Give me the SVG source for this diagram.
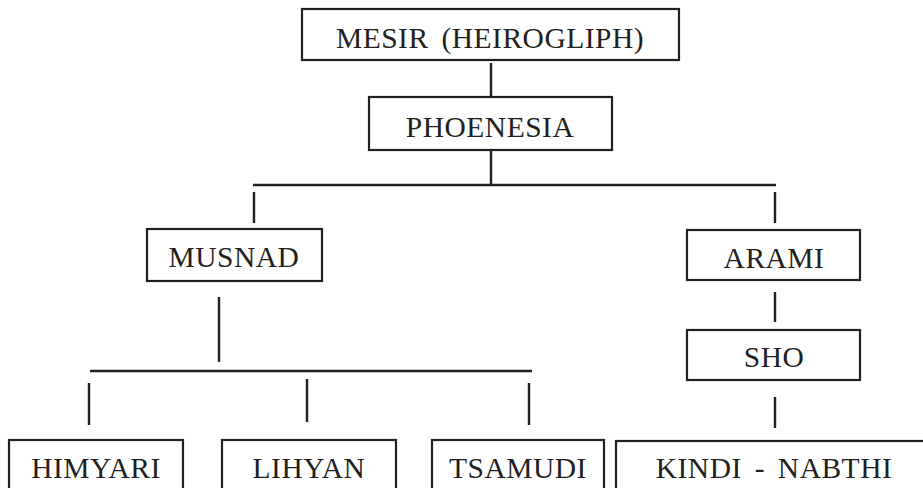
<svg xmlns="http://www.w3.org/2000/svg" width="923" height="488" viewBox="0 0 923 488">
<style>
.box{fill:#fff;stroke:#231f20;stroke-width:2.2}
.lbl{font-family:"Liberation Serif","Times New Roman",serif;font-size:29.5px;letter-spacing:0.5px;fill:#231f20;text-anchor:middle}
.ws{word-spacing:5px}
.con line{stroke:#231f20;stroke-width:2.4}
</style>
<rect width="923" height="488" fill="#fff"/>
<g class="con" id="connectors">
<line x1="491" y1="63" x2="491" y2="96"/>
<line x1="491" y1="150" x2="491" y2="185"/>
<line x1="253" y1="185" x2="776" y2="185"/>
<line x1="254" y1="192" x2="254" y2="223"/>
<line x1="775" y1="192" x2="775" y2="223"/>
<line x1="219" y1="297" x2="219" y2="362"/>
<line x1="90" y1="371" x2="532" y2="371"/>
<line x1="89" y1="383" x2="89" y2="425"/>
<line x1="307" y1="379" x2="307" y2="422"/>
<line x1="529" y1="383" x2="529" y2="425"/>
<line x1="775" y1="292" x2="775" y2="322"/>
<line x1="775" y1="397" x2="775" y2="428"/>
</g>
<g id="mesir"><rect class="box" x="302" y="9" width="377" height="51"/><text class="lbl ws" x="490" y="48">MESIR (HEIROGLIPH)</text></g>
<g id="phoenesia"><rect class="box" x="369" y="97" width="243" height="53"/><text class="lbl" x="490" y="137">PHOENESIA</text></g>
<g id="musnad"><rect class="box" x="147" y="229" width="175" height="52"/><text class="lbl" x="234" y="267">MUSNAD</text></g>
<g id="arami"><rect class="box" x="687" y="230" width="173" height="50"/><text class="lbl" x="774" y="268">ARAMI</text></g>
<g id="sho"><rect class="box" x="687" y="330" width="173" height="50"/><text class="lbl" x="774" y="367">SHO</text></g>
<g id="himyari"><rect class="box" x="9" y="440" width="174" height="60"/><text class="lbl" x="96" y="478">HIMYARI</text></g>
<g id="lihyan"><rect class="box" x="222" y="440" width="174" height="60"/><text class="lbl" x="309" y="478">LIHYAN</text></g>
<g id="tsamudi"><rect class="box" x="432" y="440" width="172" height="60"/><text class="lbl" x="518" y="478">TSAMUDI</text></g>
<g id="kindi-nabthi"><rect class="box" x="616" y="441" width="316" height="60"/><text class="lbl ws" x="774" y="478">KINDI - NABTHI</text></g>
</svg>
